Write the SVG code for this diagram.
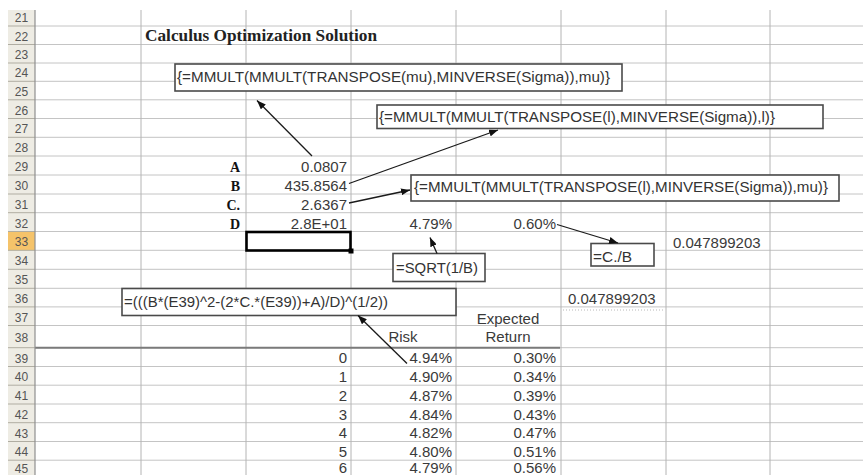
<svg xmlns="http://www.w3.org/2000/svg" width="863" height="475" viewBox="0 0 863 475">
<defs>
<marker id="ah" viewBox="0 0 9 7" refX="9" refY="3.5" markerWidth="9" markerHeight="7" markerUnits="userSpaceOnUse" orient="auto"><path d="M0,0 L9,3.5 L0,7 z" fill="#111"/></marker>
<style>
.grid{stroke:#c4c4c4;stroke-width:1;fill:none}
.vgrid{stroke:#b4b4b4;stroke-width:1;fill:none}
.hdr{font-family:"Liberation Sans",Arial,sans-serif;font-size:12px;fill:#555;text-anchor:middle}
.cell{font-family:"Liberation Sans",Arial,sans-serif;font-size:15px;fill:#3a3a3a}
.r{text-anchor:end}
.c{text-anchor:middle}
.lbl{font-family:"Liberation Serif","Times New Roman",serif;font-size:14px;font-weight:bold;fill:#111;text-anchor:end}
.title{font-family:"Liberation Serif","Times New Roman",serif;font-size:16px;font-weight:bold;fill:#222}
.box{fill:#fff;stroke:#4a4a4a;stroke-width:1.6}
.btxt{font-family:"Liberation Sans",Arial,sans-serif;font-size:15px;fill:#333}
.conn{stroke:#1a1a1a;stroke-width:1.3;fill:none;marker-end:url(#ah)}
</style>
</defs>
<rect x="0" y="0" width="863" height="475" fill="#fff"/>
<g id="grid">
<path class="grid" d="M35,26H863M35,44.5H863M35,63H863M35,81.3H863M35,99.8H863M35,118.5H863M35,137.3H863M35,156H863M35,175H863M35,194H863M35,212.7H863M35,231.5H863M35,250.3H863M35,269.3H863M35,288.3H863M35,306.9H863M35,325.5H863M35,347.7H863M35,366.5H863M35,385.2H863M35,404H863M35,422.7H863M35,441.5H863M35,460.2H863"/>
<path class="vgrid" d="M141,10V475M246,10V475M351,10V475M456,10V475M561,10V475M666,10V475M770,10V475"/>
<line x1="35" y1="347.7" x2="560" y2="347.7" stroke="#7a7a7a" stroke-width="2"/>
<line x1="563" y1="310" x2="665" y2="310" stroke="#b8b8b8" stroke-width="1" stroke-dasharray="1,2"/>
</g>
<g id="row-headers">
<rect x="8" y="10" width="27" height="465" fill="#eeece4"/>
<rect x="8" y="231.5" width="27" height="18.8" fill="#f5c36a"/>
<path d="M8,26H35M8,44.5H35M8,63H35M8,81.3H35M8,99.8H35M8,118.5H35M8,137.3H35M8,156H35M8,175H35M8,194H35M8,212.7H35M8,231.5H35M8,250.3H35M8,269.3H35M8,288.3H35M8,306.9H35M8,325.5H35M8,347.7H35M8,366.5H35M8,385.2H35M8,404H35M8,422.7H35M8,441.5H35M8,460.2H35" stroke="#b0ada2" stroke-width="1"/>
<line x1="35" y1="10" x2="35" y2="475" stroke="#8f8f8f" stroke-width="1.2"/>
<text class="hdr" x="21.5" y="22">21</text>
<text class="hdr" x="21.5" y="40.5">22</text>
<text class="hdr" x="21.5" y="59">23</text>
<text class="hdr" x="21.5" y="77.3">24</text>
<text class="hdr" x="21.5" y="95.8">25</text>
<text class="hdr" x="21.5" y="114.5">26</text>
<text class="hdr" x="21.5" y="133.3">27</text>
<text class="hdr" x="21.5" y="152">28</text>
<text class="hdr" x="21.5" y="171">29</text>
<text class="hdr" x="21.5" y="190">30</text>
<text class="hdr" x="21.5" y="208.7">31</text>
<text class="hdr" x="21.5" y="227.5">32</text>
<text class="hdr" x="21.5" y="246.3">33</text>
<text class="hdr" x="21.5" y="265.3">34</text>
<text class="hdr" x="21.5" y="284.3">35</text>
<text class="hdr" x="21.5" y="302.9">36</text>
<text class="hdr" x="21.5" y="321.5">37</text>
<text class="hdr" x="21.5" y="342">38</text>
<text class="hdr" x="21.5" y="362.5">39</text>
<text class="hdr" x="21.5" y="381.2">40</text>
<text class="hdr" x="21.5" y="400">41</text>
<text class="hdr" x="21.5" y="418.7">42</text>
<text class="hdr" x="21.5" y="437.5">43</text>
<text class="hdr" x="21.5" y="456.2">44</text>
<text class="hdr" x="21.5" y="472.5">45</text>
</g>
<g id="title"><text class="title" x="145" y="40.5" textLength="232" lengthAdjust="spacingAndGlyphs">Calculus Optimization Solution</text></g>
<g id="labels">
<text class="lbl" x="240" y="172">A</text>
<text class="lbl" x="240" y="191">B</text>
<text class="lbl" x="240" y="209.7">C.</text>
<text class="lbl" x="240" y="228.5">D</text>
</g>
<g id="values">
<text class="cell r" x="347" y="172">0.0807</text>
<text class="cell r" x="347" y="191">435.8564</text>
<text class="cell r" x="347" y="209.7">2.6367</text>
<text class="cell r" x="347" y="228.5">2.8E+01</text>
<text class="cell r" x="452" y="228.5">4.79%</text>
<text class="cell r" x="556" y="228.5">0.60%</text>
<text class="cell" x="673" y="247.5">0.047899203</text>
<text class="cell" x="568" y="304">0.047899203</text>
</g>
<g id="selected-cell">
<rect x="246.5" y="232" width="104" height="18.5" fill="none" stroke="#000" stroke-width="2.6"/>
<rect x="348.5" y="248.5" width="5" height="5" fill="#000"/>
</g>
<g id="table">
<text class="cell c" x="508" y="324">Expected</text>
<text class="cell c" x="508" y="342">Return</text>
<text class="cell c" x="403" y="342">Risk</text>
<text class="cell r" x="347" y="363.3">0</text>
<text class="cell r" x="452" y="363.3">4.94%</text>
<text class="cell r" x="556" y="363.3">0.30%</text>
<text class="cell r" x="347" y="382">1</text>
<text class="cell r" x="452" y="382">4.90%</text>
<text class="cell r" x="556" y="382">0.34%</text>
<text class="cell r" x="347" y="400.8">2</text>
<text class="cell r" x="452" y="400.8">4.87%</text>
<text class="cell r" x="556" y="400.8">0.39%</text>
<text class="cell r" x="347" y="419.6">3</text>
<text class="cell r" x="452" y="419.6">4.84%</text>
<text class="cell r" x="556" y="419.6">0.43%</text>
<text class="cell r" x="347" y="438.3">4</text>
<text class="cell r" x="452" y="438.3">4.82%</text>
<text class="cell r" x="556" y="438.3">0.47%</text>
<text class="cell r" x="347" y="457">5</text>
<text class="cell r" x="452" y="457">4.80%</text>
<text class="cell r" x="556" y="457">0.51%</text>
<text class="cell r" x="347" y="473">6</text>
<text class="cell r" x="452" y="473">4.79%</text>
<text class="cell r" x="556" y="473">0.56%</text>
</g>
<g id="box-a">
<rect class="box" x="175" y="64" width="447" height="27"/>
<text class="btxt" x="177" y="81.5" textLength="433" lengthAdjust="spacingAndGlyphs">{=MMULT(MMULT(TRANSPOSE(mu),MINVERSE(Sigma)),mu)}</text>
</g>
<g id="box-b">
<rect class="box" x="377" y="105" width="446" height="23.5" stroke="#666" stroke-width="2"/>
<text class="btxt" x="379" y="121.5" textLength="396" lengthAdjust="spacingAndGlyphs">{=MMULT(MMULT(TRANSPOSE(l),MINVERSE(Sigma)),l)}</text>
</g>
<g id="box-c">
<rect class="box" x="411" y="175" width="428" height="26"/>
<text class="btxt" x="414" y="191.5" textLength="414" lengthAdjust="spacingAndGlyphs">{=MMULT(MMULT(TRANSPOSE(l),MINVERSE(Sigma)),mu)}</text>
</g>
<g id="box-sqrt">
<rect class="box" x="393" y="253.5" width="92" height="28"/>
<text class="btxt" x="396" y="272.5" textLength="82" lengthAdjust="spacingAndGlyphs">=SQRT(1/B)</text>
</g>
<g id="box-cb">
<rect class="box" x="591" y="243.5" width="63" height="22.5"/>
<text class="btxt" x="593" y="261.5" textLength="39" lengthAdjust="spacingAndGlyphs">=C./B</text>
</g>
<g id="box-d">
<rect class="box" x="122" y="288.5" width="334" height="27"/>
<text class="btxt" x="124" y="306.5" textLength="264" lengthAdjust="spacingAndGlyphs">=(((B*(E39)^2-(2*C.*(E39))+A)/D)^(1/2))</text>
</g>
<g id="connectors">
<line class="conn" x1="312" y1="156" x2="257" y2="100.5"/>
<line class="conn" x1="349" y1="183.5" x2="498" y2="130"/>
<line class="conn" x1="349" y1="203" x2="410" y2="190"/>
<line class="conn" x1="557" y1="224.5" x2="618" y2="243"/>
<line class="conn" x1="437" y1="253.5" x2="430" y2="237.5"/>
<line class="conn" x1="407" y1="363.5" x2="358" y2="315.5"/>
</g>
</svg>
